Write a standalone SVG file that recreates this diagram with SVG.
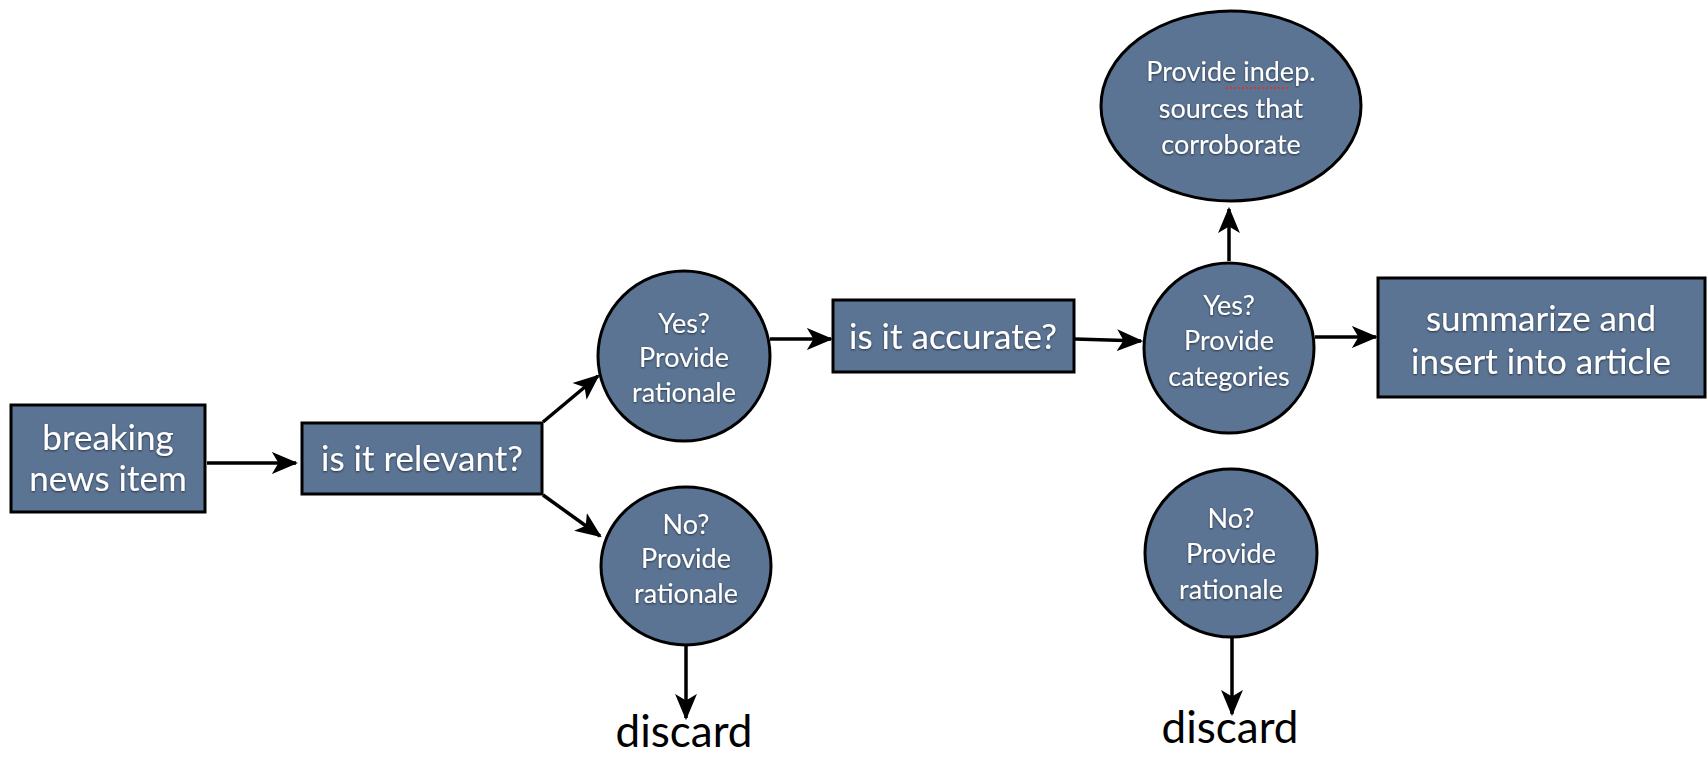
<svg xmlns="http://www.w3.org/2000/svg" width="1707" height="758" viewBox="0 0 1707 758">
<defs>
<marker id="ah" viewBox="0 0 12 10" refX="11" refY="5" markerWidth="7.5" markerHeight="6.5" orient="auto" markerUnits="strokeWidth">
<path d="M0,0 L12,5 L0,10 L3,5 Z" fill="#000"/>
</marker>
<filter id="sh" x="-10%" y="-10%" width="120%" height="120%">
<feDropShadow dx="0" dy="1" stdDeviation="1" flood-color="#000" flood-opacity="0.6"/>
</filter>
</defs>
<style>
.n{fill:#5b7493;stroke:#000;stroke-width:3}
.t{fill:#fff;font-family:Lato,"Liberation Sans",sans-serif;text-anchor:middle;filter:url(#sh)}
.big{font-size:35px}
.sm{font-size:27px}
.c{stroke:#000;stroke-width:3.5;fill:none;marker-end:url(#ah)}
.d{fill:#000;font-family:Lato,"Liberation Sans",sans-serif;font-size:44px;text-anchor:middle}
</style>
<rect width="1707" height="758" fill="#fff"/>
<g id="connectors">
<line class="c" x1="207" y1="463" x2="296" y2="463"/>
<line class="c" x1="543" y1="422" x2="598" y2="376"/>
<line class="c" x1="543" y1="495" x2="600" y2="536"/>
<line class="c" x1="770" y1="339" x2="831" y2="339"/>
<line class="c" x1="1075" y1="339" x2="1141" y2="341"/>
<line class="c" x1="1229" y1="261" x2="1229" y2="209"/>
<line class="c" x1="1315" y1="337" x2="1376" y2="337"/>
<line class="c" x1="686" y1="646" x2="686" y2="718"/>
<line class="c" x1="1232" y1="638" x2="1232" y2="714"/>
</g>
<g id="breaking">
<rect class="n" x="11" y="405" width="194" height="107"/>
<text class="t big" x="108" y="450">breaking</text>
<text class="t big" x="108" y="491">news item</text>
</g>
<g id="relevant">
<rect class="n" x="302" y="423" width="240" height="71"/>
<text class="t big" x="422" y="471">is it relevant?</text>
</g>
<g id="yes1">
<ellipse class="n" cx="684" cy="356" rx="86" ry="85"/>
<text class="t sm" x="684" y="333">Yes?</text>
<text class="t sm" x="684" y="367">Provide</text>
<text class="t sm" x="684" y="402">rationale</text>
</g>
<g id="no1">
<ellipse class="n" cx="686" cy="566" rx="85" ry="79"/>
<text class="t sm" x="686" y="534">No?</text>
<text class="t sm" x="686" y="568">Provide</text>
<text class="t sm" x="686" y="603">rationale</text>
</g>
<g id="accurate">
<rect class="n" x="833" y="300" width="241" height="72"/>
<text class="t big" x="953" y="349">is it accurate?</text>
</g>
<g id="yes2">
<ellipse class="n" cx="1229" cy="348" rx="85" ry="85"/>
<text class="t sm" x="1229" y="315">Yes?</text>
<text class="t sm" x="1229" y="350">Provide</text>
<text class="t sm" x="1229" y="386">categories</text>
</g>
<g id="sources">
<ellipse class="n" cx="1231" cy="106" rx="130" ry="95"/>
<text class="t sm" x="1231" y="81">Provide indep.</text>
<text class="t sm" x="1231" y="118">sources that</text>
<text class="t sm" x="1231" y="154">corroborate</text>
<line x1="1226" y1="88" x2="1290" y2="88" stroke="#d03a2a" stroke-width="2" stroke-dasharray="2,2"/>
</g>
<g id="summarize">
<rect class="n" x="1378" y="278" width="327" height="119"/>
<text class="t big" x="1541" y="331">summarize and</text>
<text class="t big" x="1541" y="374">insert into article</text>
</g>
<g id="no2">
<ellipse class="n" cx="1231" cy="553" rx="86" ry="84"/>
<text class="t sm" x="1231" y="528">No?</text>
<text class="t sm" x="1231" y="563">Provide</text>
<text class="t sm" x="1231" y="599">rationale</text>
</g>
<g id="discard1"><text class="d" x="684" y="747">discard</text></g>
<g id="discard2"><text class="d" x="1230" y="743">discard</text></g>
</svg>
